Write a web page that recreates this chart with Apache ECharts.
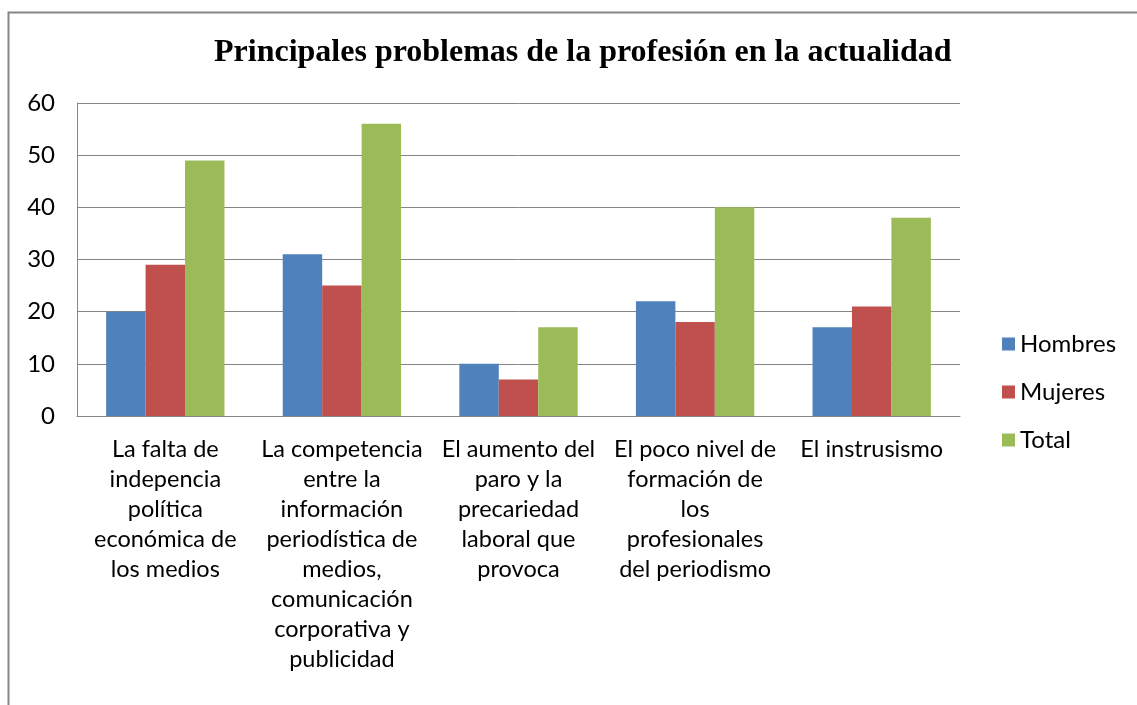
<!DOCTYPE html>
<html><head><meta charset="utf-8">
<script src="https://cdn.jsdelivr.net/npm/echarts@6/dist/echarts.min.js"></script>
<style>html,body{margin:0;padding:0;background:#fff}#c{width:1137px;height:705px}</style>
</head><body><div id="c"></div>
<script>
const titleText = 'Principales problemas de la profesión en la actualidad';
const categories = [
  'La falta de\nindepencia\npolítica\neconómica de\nlos medios',
  'La competencia\nentre la\ninformación\nperiodística de\nmedios,\ncomunicación\ncorporativa y\npublicidad',
  'El aumento del\nparo y la\nprecariedad\nlaboral que\nprovoca',
  'El poco nivel de\nformación de\nlos\nprofesionales\ndel periodismo',
  'El instrusismo'
];
const seriesNames = ['Hombres', 'Mujeres', 'Total'];
const hombres = [20, 31, 10, 22, 17];
const mujeres = [29, 25, 7, 18, 21];
const total = [49, 56, 17, 40, 38];
const colors = ['#4F81BD', '#C0504D', '#9BBB59'];
const font = 'Lato, "Open Sans", sans-serif';

const chart = echarts.init(document.getElementById('c'));
const values = [hombres, mujeres, total];
chart.setOption({
  animation: false,
  color: colors,
  graphic: [{
    type: 'rect', shape: {x: 8.5, y: 12.5, width: 1140, height: 720},
    style: {fill: 'none', stroke: '#868686', lineWidth: 2}, silent: true, z: -1
  }],
  title: {
    text: titleText, left: 209, top: 32,
    textStyle: {fontFamily: '"Liberation Serif", "Times New Roman", serif', fontWeight: 'bold', fontSize: 32, color: '#000'}
  },
  legend: {
    orient: 'vertical', left: 997, top: 327, itemGap: 24,
    itemWidth: 13, itemHeight: 13, icon: 'rect',
    textStyle: {fontFamily: font, fontSize: 24, color: '#000'}
  },
  grid: {left: 77, right: 177, top: 103, bottom: 289, containLabel: false},
  xAxis: {
    type: 'category', data: categories,
    axisLine: {lineStyle: {color: '#868686', width: 1}},
    axisTick: {show: false},
    axisLabel: {interval: 0, color: '#000', fontFamily: font, fontSize: 23.5, lineHeight: 30, margin: 18, align: 'center'}
  },
  yAxis: {
    type: 'value', min: 0, max: 60, interval: 10,
    axisLine: {show: true, lineStyle: {color: '#868686'}},
    axisTick: {show: false},
    splitLine: {lineStyle: {color: '#868686', width: 1}},
    axisLabel: {color: '#000', fontFamily: font, fontSize: 24, margin: 22}
  },
  series: seriesNames.map((n, i) => ({
    name: n, type: 'bar', data: values[i],
    barGap: '0%', barCategoryGap: '33%',
    itemStyle: {color: colors[i]}
  }))
});
</script></body></html>
